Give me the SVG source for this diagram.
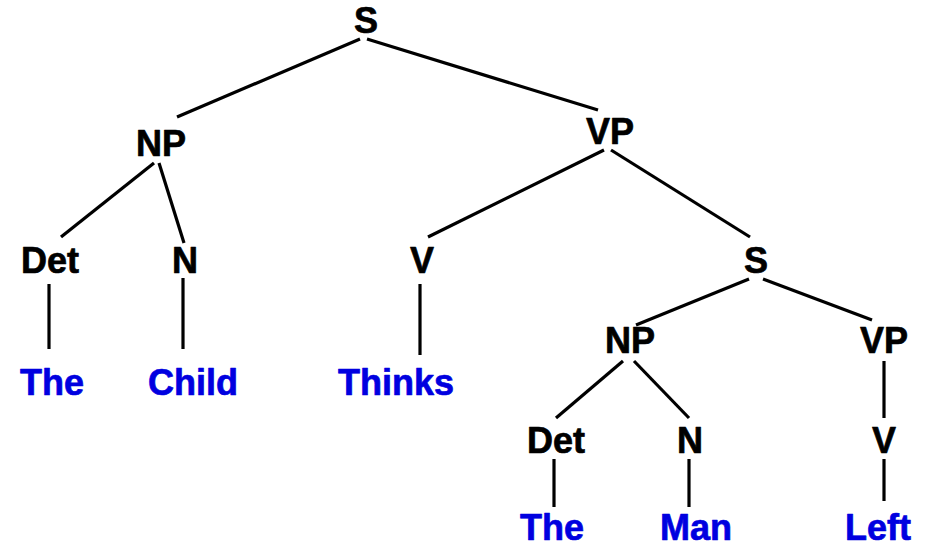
<svg xmlns="http://www.w3.org/2000/svg" width="925" height="543" viewBox="0 0 925 543">
  <style>
    text { font-family: "Liberation Sans", Arial, sans-serif; font-weight: bold; font-size: 36px; text-anchor: middle; stroke-width: 0.7; stroke-linejoin: round; }
    .cat { fill: #000000; stroke: #000000; }
    .word { fill: #0000e0; stroke: #0000e0; }
    .edges line { stroke: #000000; stroke-width: 3.2; stroke-linecap: butt; }
  </style>
  <rect width="925" height="543" fill="#ffffff"/>

  <!-- tree branches -->
  <g id="edges" class="edges">
    <line x1="360" y1="39" x2="177" y2="117"/>
    <line x1="367" y1="39" x2="598" y2="110"/>
    <line x1="154" y1="163" x2="61" y2="237"/>
    <line x1="159" y1="163" x2="184" y2="243"/>
    <line x1="604" y1="150" x2="428" y2="237"/>
    <line x1="611" y1="150" x2="750" y2="237"/>
    <line x1="49" y1="284" x2="49" y2="349"/>
    <line x1="183" y1="278" x2="183" y2="349"/>
    <line x1="420" y1="284" x2="420" y2="355"/>
    <line x1="749" y1="279" x2="636" y2="325"/>
    <line x1="763" y1="279" x2="872" y2="320"/>
    <line x1="623" y1="361" x2="556" y2="418"/>
    <line x1="634" y1="361" x2="689" y2="418"/>
    <line x1="884" y1="361" x2="884" y2="418"/>
    <line x1="554" y1="459" x2="554" y2="507"/>
    <line x1="689" y1="459" x2="689" y2="507"/>
    <line x1="884" y1="459" x2="884" y2="501"/>
  </g>

  <!-- category nodes -->
  <g id="s-root"><text class="cat" x="366" y="33">S</text></g>
  <g id="np-subject"><text class="cat" x="161" y="156">NP</text></g>
  <g id="vp-main"><text class="cat" x="610" y="144">VP</text></g>
  <g id="det-1"><text class="cat" x="50" y="273">Det</text></g>
  <g id="n-1"><text class="cat" x="185" y="273">N</text></g>
  <g id="v-1"><text class="cat" x="422" y="273">V</text></g>
  <g id="s-embedded"><text class="cat" x="756" y="273">S</text></g>
  <g id="np-embedded"><text class="cat" x="630" y="353">NP</text></g>
  <g id="vp-embedded"><text class="cat" x="884" y="353">VP</text></g>
  <g id="det-2"><text class="cat" x="556" y="453">Det</text></g>
  <g id="n-2"><text class="cat" x="690" y="453">N</text></g>
  <g id="v-2"><text class="cat" x="884" y="453">V</text></g>

  <!-- leaf words -->
  <g id="word-the-1"><text class="word" x="52" y="395">The</text></g>
  <g id="word-child"><text class="word" x="193" y="395">Child</text></g>
  <g id="word-thinks"><text class="word" x="396" y="395">Thinks</text></g>
  <g id="word-the-2"><text class="word" x="552" y="540">The</text></g>
  <g id="word-man"><text class="word" x="696" y="540">Man</text></g>
  <g id="word-left"><text class="word" x="878" y="540">Left</text></g>
</svg>
